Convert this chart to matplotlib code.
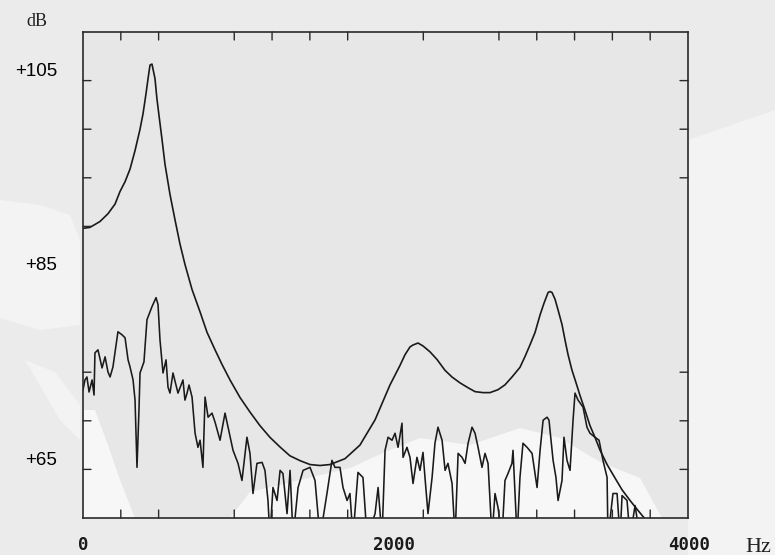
import matplotlib
matplotlib.use("Agg")
import matplotlib.pyplot as plt
from matplotlib.transforms import offset_copy
from matplotlib.patches import Polygon

# ---------------- data ----------------
env_hz = [0, 46, 112, 165, 212, 245, 278, 311, 344, 377, 397, 417, 430, 443, 456,
          476, 489, 509, 522, 542, 575, 608, 641, 674, 721, 774, 820, 873, 919,
          972, 1038, 1104, 1170, 1236, 1303, 1368, 1435, 1501, 1567, 1633, 1732,
          1831, 1931, 2030, 2096, 2129, 2162, 2182, 2215, 2248, 2294, 2341, 2393,
          2440, 2493, 2546, 2592, 2645, 2691, 2744, 2790, 2836, 2889, 2922, 2955,
          2989, 3022, 3048, 3075, 3088, 3101, 3121, 3141, 3167, 3187, 3207, 3233,
          3260, 3286, 3319, 3352, 3385, 3418, 3465, 3518, 3564, 3617, 3663, 3716]
env_db = [89.8, 89.9, 90.5, 91.3, 92.3, 93.6, 94.6, 95.9, 97.8, 100.0, 101.6,
          103.7, 105.2, 106.6, 106.7, 105.2, 103.1, 100.6, 99.0, 96.4, 93.3, 90.7,
          88.2, 86.1, 83.5, 81.2, 79.1, 77.3, 75.8, 74.2, 72.4, 70.9, 69.5, 68.3,
          67.3, 66.4, 65.9, 65.5, 65.4, 65.5, 66.1, 67.5, 70.1, 73.7, 75.7, 76.8,
          77.6, 77.8, 78.0, 77.7, 77.1, 76.3, 75.2, 74.5, 73.9, 73.4, 73.0, 72.9,
          72.9, 73.2, 73.7, 74.5, 75.5, 76.6, 77.8, 79.1, 80.9, 82.1, 83.2, 83.3,
          83.2, 82.5, 81.4, 79.9, 78.3, 76.8, 75.2, 73.9, 72.6, 71.1, 69.5, 68.3,
          67.0, 65.5, 64.1, 62.9, 61.8, 60.9, 59.9]

spec_hz = [0, 13, 26, 40, 60, 73, 79, 99, 126, 146, 165, 179, 198, 231, 258, 278,
           298, 311, 331, 344, 357, 370, 377, 403, 423, 456, 483, 496, 509, 529,
           549, 562, 575, 595, 628, 661, 674, 688, 701, 721, 741, 760, 774, 793,
           807, 827, 853, 873, 906, 939, 959, 992, 1025, 1051, 1084, 1104, 1124,
           1150, 1184, 1203, 1223, 1236, 1256, 1283, 1303, 1322, 1349, 1369, 1389,
           1422, 1455, 1501, 1534, 1567, 1613, 1646, 1666, 1699, 1719, 1746, 1765,
           1785, 1818, 1851, 1878, 1931, 1951, 1977, 1997, 2017, 2043, 2063, 2083,
           2109, 2116, 2142, 2162, 2182, 2208, 2228, 2248, 2261, 2281, 2308, 2327,
           2347, 2374, 2394, 2413, 2440, 2460, 2480, 2506, 2526, 2546, 2572, 2592,
           2612, 2638, 2658, 2678, 2704, 2724, 2744, 2770, 2790, 2810, 2836, 2843,
           2870, 2889, 2909, 2936, 2969, 3002, 3022, 3042, 3068, 3081, 3108, 3127,
           3141, 3167, 3180, 3200, 3220, 3240, 3253, 3273, 3306, 3332, 3352, 3385,
           3412, 3438, 3465, 3471, 3504, 3531, 3551, 3564, 3597, 3617, 3650, 3683]
spec_db = [73.17, 74.20, 74.51, 72.96, 74.20, 72.65, 76.99, 77.30, 75.44, 76.58,
           75.03, 74.51, 75.54, 79.16, 78.85, 78.54, 76.27, 75.54, 74.20, 72.13,
           65.21, 71.10, 74.92, 76.06, 80.40, 81.74, 82.67, 81.95, 78.33, 74.92,
           76.27, 73.47, 72.85, 74.92, 72.85, 74.20, 72.13, 72.85, 73.68, 72.44,
           68.72, 67.27, 68.00, 65.21, 72.44, 70.37, 70.79, 69.86, 68.00, 70.79,
           69.34, 66.96, 65.62, 63.86, 68.31, 66.65, 62.52, 65.62, 65.72, 64.90,
           61.80, 58.0, 63.14, 61.80, 64.90, 64.58, 60.45, 64.90, 58.0, 63.14,
           64.90, 65.21, 63.86, 58.0, 62.52, 65.93, 65.21, 65.21, 63.14, 61.80,
           62.52, 58.0, 64.69, 64.17, 58.0, 60.45, 63.14, 58.0, 66.96, 68.31,
           68.00, 68.72, 67.27, 69.75, 66.24, 67.27, 66.24, 63.55, 66.24, 64.90,
           66.75, 64.17, 60.45, 64.17, 67.69, 69.34, 68.00, 64.90, 65.62, 63.55,
           58.0, 66.65, 66.24, 65.62, 67.69, 69.34, 68.72, 67.27, 65.21, 66.65,
           65.62, 58.0, 62.52, 61.07, 58.0, 63.86, 64.58, 65.62, 66.96, 58.0,
           64.17, 67.69, 67.27, 66.65, 63.14, 66.96, 70.06, 70.37, 70.06, 65.93,
           64.17, 61.80, 63.86, 68.31, 65.93, 64.90, 70.06, 72.85, 72.13, 71.41,
           69.34, 68.72, 68.31, 68.00, 65.93, 64.17, 58.0, 62.52, 62.52, 58.0,
           62.31, 61.80, 58.0, 61.28, 58.0]

x_top_ticks = [250, 500, 1000, 1250, 1500, 1750, 2250, 2750, 3000, 3250, 3500, 3750]
x_bottom_ticks = [250, 500, 1000, 1250, 1500, 1750, 2250, 2750, 3000, 3250, 3500, 3750]
y_left_ticks = [105, 100, 95, 90, 75, 70, 65]
y_right_ticks = [105, 100, 95, 75, 70, 65]
y_labels = [105, 85, 65]
x_labels = [0, 2000, 4000]
x_label_dx = [0, 8, 1]

# ---------------- figure ----------------
W, H = 775, 555
fig = plt.figure(figsize=(W / 100, H / 100), dpi=100, facecolor="#ebebeb")


def px(pts):
    return [(x / W, 1 - y / H) for x, y in pts]


# faint watermark-like light areas in the background (decoration only)
bg_shapes = [
    [(688, 140), (775, 110), (775, 555), (688, 555)],
    [(0, 200), (40, 205), (70, 215), (80, 240), (80, 325), (40, 330), (0, 318)],
    [(25, 360), (55, 372), (80, 405), (80, 440), (60, 420)],
]
for shp in bg_shapes:
    fig.patches.append(Polygon(px(shp), closed=True, transform=fig.transFigure,
                               facecolor="#f3f3f3", edgecolor="none", zorder=-10))

ax = fig.add_axes([83 / W, 1 - 518 / H, (688 - 83) / W, (518 - 32) / H])
ax.set_facecolor("#e7e7e7")

ax_shapes = [
    [(230, 518), (250, 492), (300, 480), (350, 468), (385, 452), (420, 438),
     (470, 445), (520, 428), (560, 438), (600, 462), (640, 478), (662, 518)],
    [(83, 410), (95, 410), (108, 445), (120, 480), (135, 518), (83, 518)],
]
for shp in ax_shapes:
    ax.add_patch(Polygon(px(shp), closed=True, transform=fig.transFigure,
                         facecolor="#f7f7f7", edgecolor="none", zorder=0))

line_col = "#1a1a1a"
ax.plot(spec_hz, spec_db, color=line_col, lw=1.15, zorder=3)
ax.plot(env_hz, env_db, color=line_col, lw=1.2, zorder=3)

ax.set_xlim(0, 4000)
ax.set_ylim(60, 110)

for s in ax.spines.values():
    s.set_linewidth(1.2)
    s.set_color("#2a2a2a")
    s.set_zorder(4)

ax.set_xticks([])
ax.set_yticks([])

tl = 8  # tick length in pixels
arrow = dict(arrowstyle="-", color="#2a2a2a", lw=1.0, shrinkA=0, shrinkB=0)
for hz in x_top_ticks:
    ax.annotate("", xy=(hz, 1), xycoords=ax.get_xaxis_transform(),
                xytext=(0, -tl), textcoords="offset pixels", arrowprops=arrow)
for hz in x_bottom_ticks:
    ax.annotate("", xy=(hz, 0), xycoords=ax.get_xaxis_transform(),
                xytext=(0, tl), textcoords="offset pixels", arrowprops=arrow)
for db in y_left_ticks:
    ax.annotate("", xy=(0, db), xycoords=ax.get_yaxis_transform(),
                xytext=(tl, 0), textcoords="offset pixels", arrowprops=arrow)
for db in y_right_ticks:
    ax.annotate("", xy=(1, db), xycoords=ax.get_yaxis_transform(),
                xytext=(-tl, 0), textcoords="offset pixels", arrowprops=arrow)

# y labels
ytr = offset_copy(ax.get_yaxis_transform(), fig=fig, x=-26, y=9, units="dots")
for db in y_labels:
    ax.text(0, db, "+%d" % db, transform=ytr, ha="right", va="center",
            fontsize=13.5, family="Liberation Sans", color="#000000", zorder=5)

# x labels
for hz, dx in zip(x_labels, x_label_dx):
    xtr = offset_copy(ax.get_xaxis_transform(), fig=fig, x=dx, y=-27, units="dots")
    ax.text(hz, 0, "%d" % hz, transform=xtr, ha="center", va="center",
            fontsize=12.5, family="DejaVu Sans Mono", fontweight="bold",
            color="#1a1a1a", zorder=5)

fig.text(758 / W, 1 - 547 / H, "Hz", ha="center", va="center",
         fontsize=16, family="Liberation Serif", color="#222222", zorder=5)
fig.text(37 / W, 1 - 22 / H, "dB", ha="center", va="center",
         fontsize=13, family="Liberation Serif", color="#222222", zorder=5)

fig.savefig("out.png", dpi=100, facecolor=fig.get_facecolor())
